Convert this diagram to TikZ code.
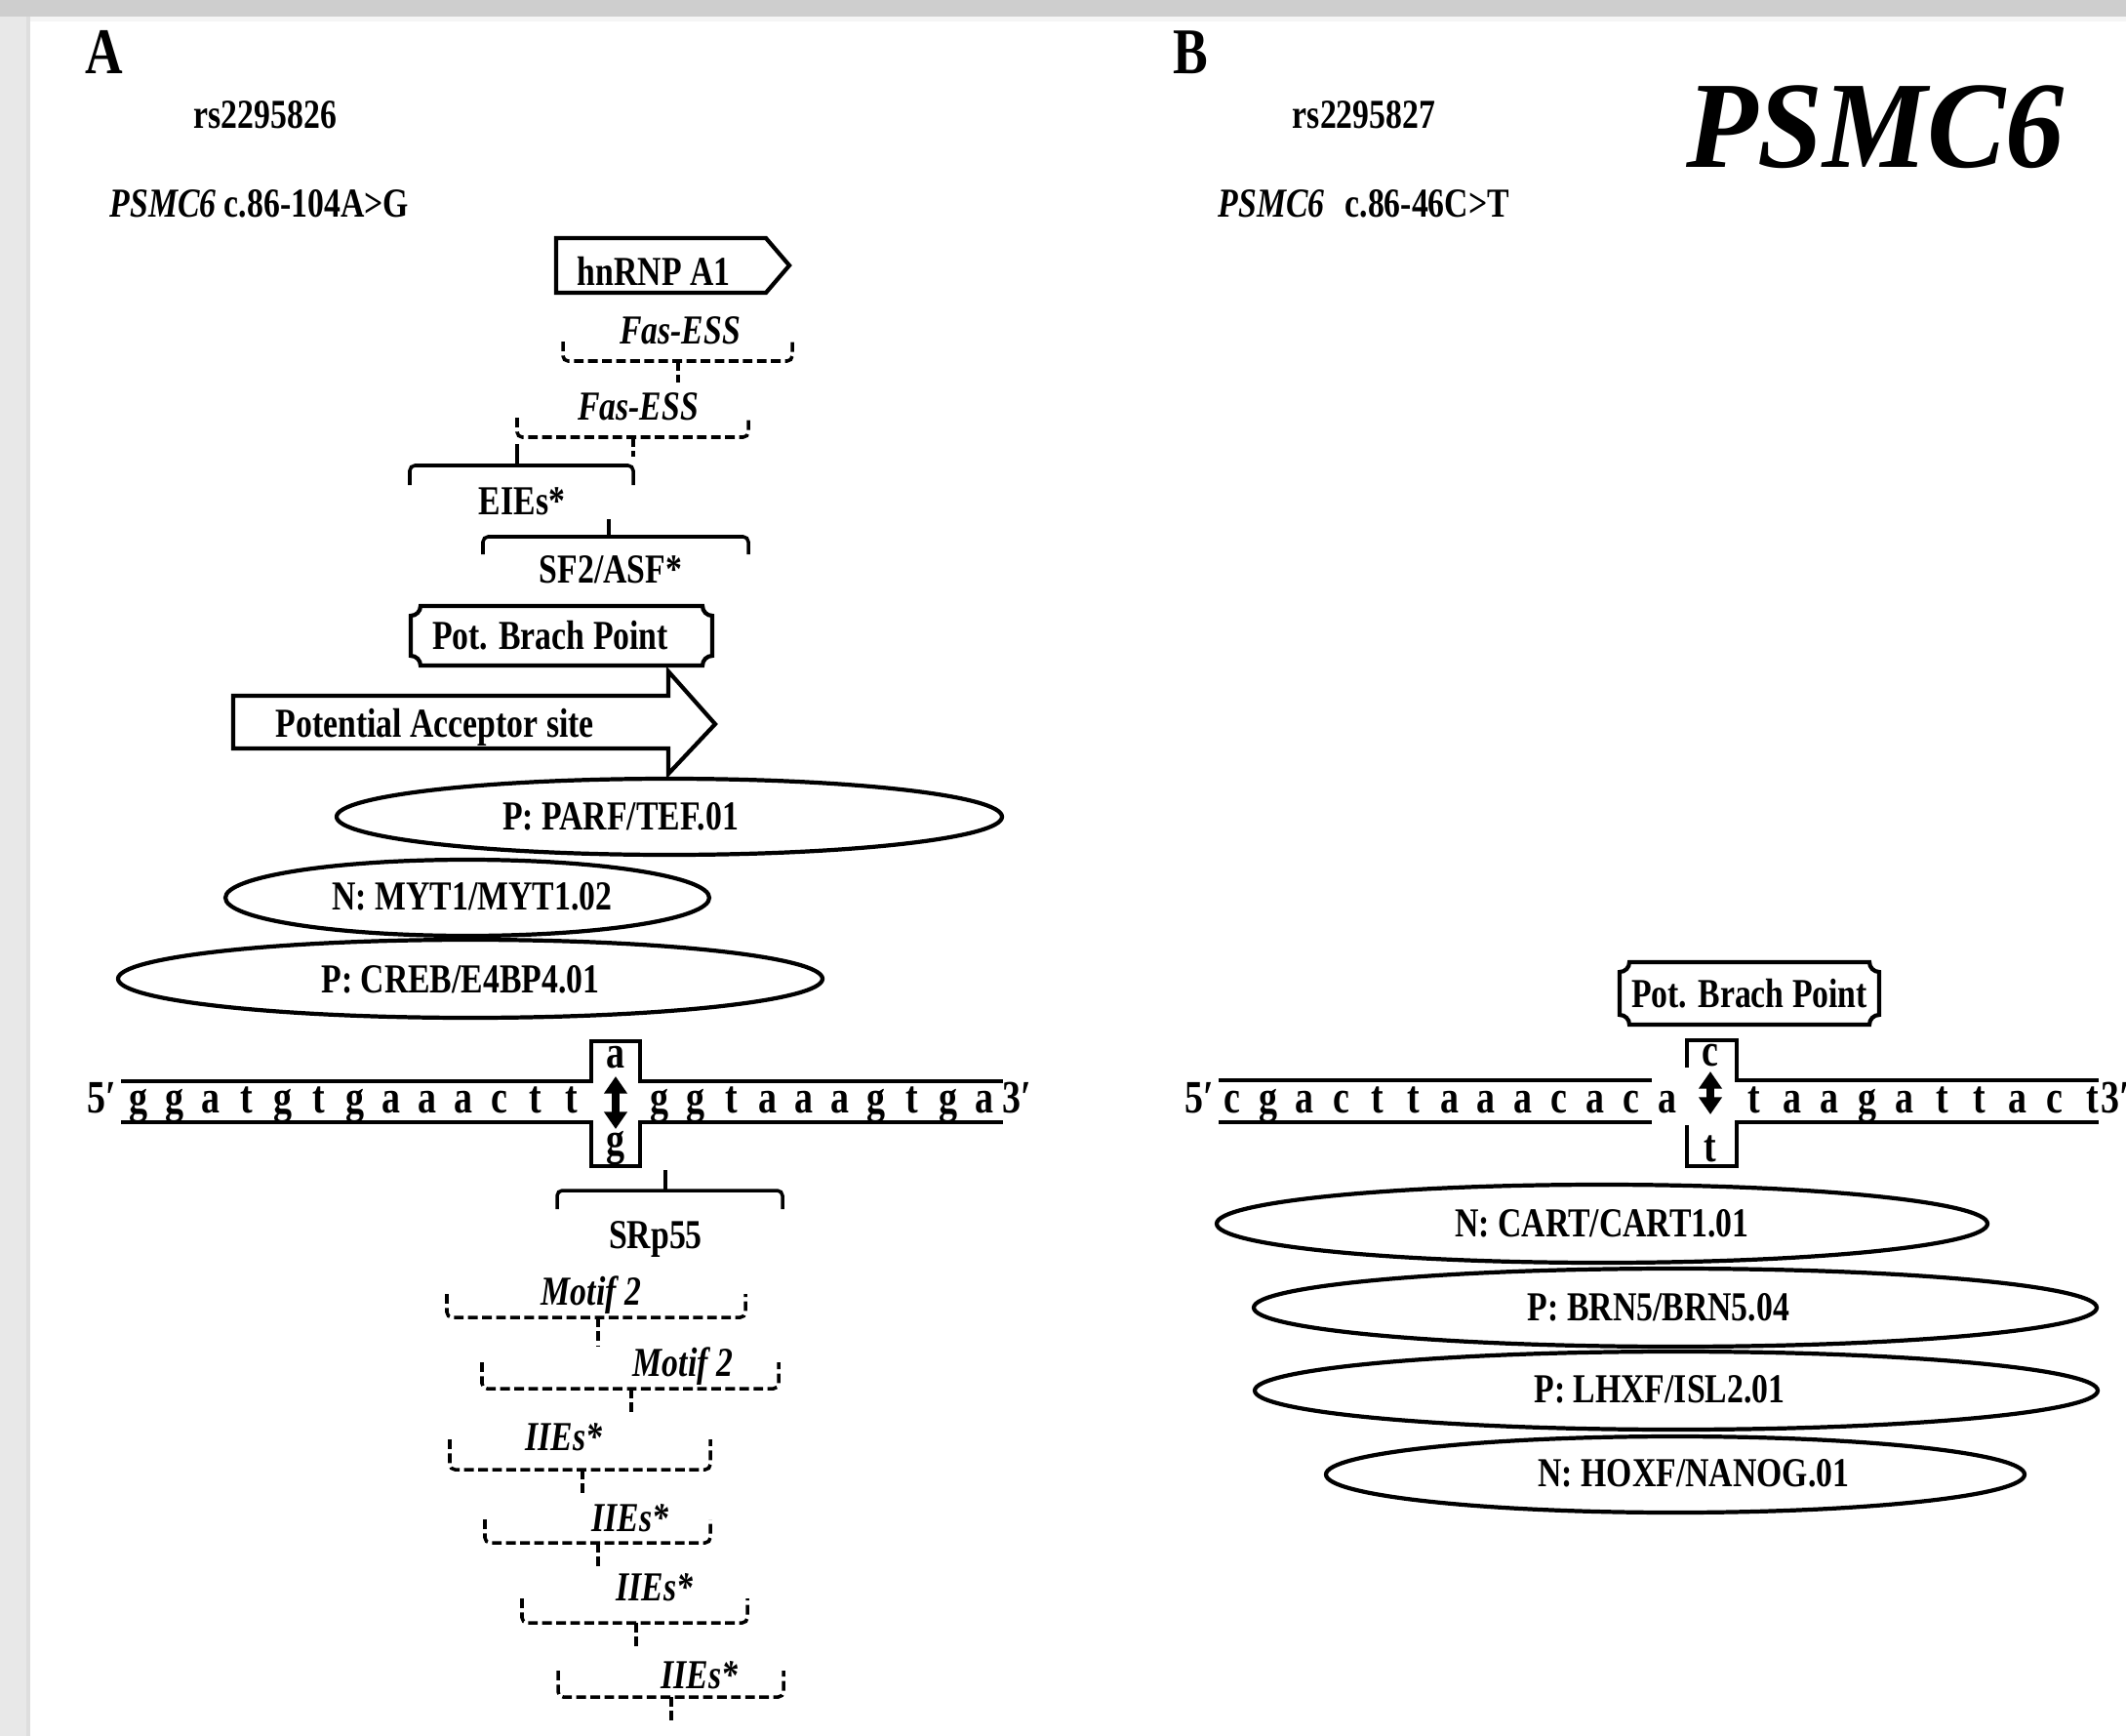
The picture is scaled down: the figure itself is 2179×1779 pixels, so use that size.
\documentclass[tikz,border=0pt]{standalone}
\usepackage{fontspec}
\setmainfont{Liberation Serif}[FakeStretch=0.8]
\newfontfamily\bigfont{Liberation Serif}[FakeStretch=0.95]
\usetikzlibrary{arrows.meta,shapes.geometric}
\definecolor{topband}{RGB}{206,206,206}
\definecolor{sideband}{RGB}{232,232,232}
\newcommand\dashbr[6]{%
  \draw[dbr] (#1,#4) -- (#1,#3) -- (#2,#3) -- (#2,#4);
  \draw[dbr] (#5,#3) -- (#5,#6);}
\newcommand\solbr[6]{%
  \draw[sbr] (#1,#4) -- (#1,#3) -- (#2,#3) -- (#2,#4);
  \draw[sbr] (#5,#3) -- (#5,#6);}
\newcommand\plaque[4]{%
  \draw[pl] (#1+10,#2) -- (#3-10,#2) .. controls (#3-10,#2+5.5) and (#3-5.5,#2+10) .. (#3,#2+10)
   -- (#3,#4-10) .. controls (#3-5.5,#4-10) and (#3-10,#4-5.5) .. (#3-10,#4)
   -- (#1+10,#4) .. controls (#1+10,#4-5.5) and (#1+5.5,#4-10) .. (#1,#4-10)
   -- (#1,#2+10) .. controls (#1+5.5,#2+10) and (#1+10,#2+5.5) .. cycle;}
\begin{document}
\begin{tikzpicture}[x=0.01cm,y=-0.01cm,
  lbl/.style={font=\fontsize{12}{14}\selectfont\bfseries, inner sep=0pt, anchor=base},
  ilbl/.style={font=\fontsize{12}{14}\selectfont\bfseries\itshape, inner sep=0pt, anchor=base},
  seq/.style={font=\fontsize{13.5}{15}\selectfont\bfseries, inner sep=0pt, anchor=base},
  panel/.style={font=\fontsize{19}{21}\selectfont\bfseries, inner sep=0pt, anchor=base},
  dbr/.style={line width=1pt, dash pattern=on 2.8pt off 1.3pt, rounded corners=1.5pt},
  sbr/.style={line width=1pt, rounded corners=1.5pt},
  pl/.style={line width=1.2pt},
  ell/.style={line width=1.2pt},
  strand/.style={line width=1.4pt},
  dbl/.style={line width=2.2pt, {Triangle[width=6.5pt,length=5pt]}-{Triangle[width=6.5pt,length=5pt]}},
  box/.style={line width=1.2pt, line join=miter}]
\useasboundingbox (0,0) rectangle (2179,1779);
% background frame
\fill[white] (0,0) rectangle (2179,1779);
\fill[sideband] (0,0) rectangle (31,1779);
\fill[black!13] (27,0) rectangle (31,1779);
\fill[topband] (0,0) rectangle (2179,17);
\fill[black!4] (31,17) rectangle (2179,22);

% ---------- Panel A ----------
\node[panel] (pA) at (107,76) {A};
\node[lbl] (rsA) at (272,132) {rs2295826};
\node[lbl, anchor=base west] (mutA) at (112,222) {\textit{PSMC6} c.86-104A>G};

% hnRNP A1 arrow
\draw[box] (570,244) -- (785,244) -- (809,272) -- (785,300) -- (570,300) -- cycle;
\node[lbl, anchor=base west] (hnrnp) at (591,292) {hnRNP A1};

% Fas-ESS brackets
\node[ilbl] (fas1) at (697,352) {Fas-ESS};
\dashbr{577}{812}{370}{350}{695}{392}
\node[ilbl] (fas2) at (654,430) {Fas-ESS};
\dashbr{530}{767}{448}{428}{649}{468}

% EIEs and SF2/ASF
\solbr{420}{649}{477}{497}{530}{455}
\node[lbl] (eies) at (535,527) {EIEs*};
\solbr{495}{767}{550}{568}{624}{532}
\node[lbl] (sf2) at (626,597) {SF2/ASF*};

% Pot. Brach Point
\plaque{421}{621}{730}{682}
\node[lbl] (bpA) at (564,665) {Pot. Brach Point};

% Potential acceptor site arrow
\draw[box] (239,713) -- (685,713) -- (685,688) -- (733,742) -- (685,793) -- (685,767) -- (239,767) -- cycle;
\node[lbl, anchor=base west] (acc) at (282,755) {Potential Acceptor site};

% ellipses
\draw[ell] (686,837) ellipse [x radius=341, y radius=39];
\node[lbl] (parf) at (636,850) {P: PARF/TEF.01};
\draw[ell] (479,920) ellipse [x radius=248, y radius=39];
\node[lbl] (myt) at (484,932) {N: MYT1/MYT1.02};
\draw[ell] (482,1003) ellipse [x radius=361, y radius=40];
\node[lbl] (creb) at (472,1017) {P: CREB/E4BP4.01};

% sequence A
\draw[strand] (124,1108) -- (606,1108) -- (606,1067) -- (656,1067) -- (656,1108) -- (1028,1108);
\draw[strand] (124,1150) -- (606,1150) -- (606,1195) -- (656,1195) -- (656,1150) -- (1028,1150);
\node[seq] (p5A) at (104,1140) {5′};
\foreach \c [count=\i from 0] in {g,g,a,t,g,t,g,a,a,a,c,t,t}
  \node[seq] (sa\i) at (142+37*\i,1140) {\c};
\foreach \c [count=\i from 0] in {g,g,t,a,a,a,g,t,g,a}
  \node[seq] (sb\i) at (676+37*\i,1140) {\c};
\node[seq] (p3A) at (1042,1140) {3′};
\node[seq] (alA) at (631,1094) {a};
\node[seq] (alG) at (631,1183) {g};
\draw[dbl] (631,1103) -- (631,1157);

% SRp55
\solbr{571}{802}{1220}{1239}{682}{1199}
\node[lbl] (srp) at (672,1279) {SRp55};

% lower dashed brackets
\node[ilbl] (mot1) at (606,1337) {Motif 2};
\dashbr{458}{764}{1350}{1326}{613}{1379}
\node[ilbl] (mot2) at (700,1410) {Motif 2};
\dashbr{494}{798}{1423}{1396}{647}{1450}
\node[ilbl] (iie1) at (578,1486) {IIEs*};
\dashbr{461}{728}{1506}{1475}{597}{1532}
\node[ilbl] (iie2) at (646,1569) {IIEs*};
\dashbr{497}{728}{1581}{1557}{613}{1605}
\node[ilbl] (iie3) at (671,1640) {IIEs*};
\dashbr{535}{766}{1663}{1638}{652}{1688}
\node[ilbl] (iie4) at (717,1730) {IIEs*};
\dashbr{572}{803}{1739}{1712}{688}{1766}

% ---------- Panel B ----------
\node[panel] (pB) at (1220,76) {B};
\node[lbl] (rsB) at (1398,132) {rs2295827};
\node[lbl, anchor=base west] (mutB) at (1248,222) {\textit{PSMC6}\hspace{0.5em}c.86-46C>T};
\node[inner sep=0pt, anchor=base, font=\bigfont\fontsize{36}{40}\selectfont\bfseries\itshape] (gene) at (1922,172) {PSMC6};

\plaque{1660}{986}{1926}{1050}
\node[lbl] (bpB) at (1793,1032) {Pot. Brach Point};

\draw[strand] (1249,1107) -- (1693,1107);
\draw[strand] (1729,1094) -- (1729,1066) -- (1780,1066) -- (1780,1107) -- (2151,1107);
\draw[strand] (1249,1150) -- (1693,1150);
\draw[strand] (1729,1153) -- (1729,1195) -- (1780,1195) -- (1780,1150) -- (2151,1150);
\node[seq] (p5B) at (1229,1140) {5′};
\foreach \c [count=\i from 0] in {c,g,a,c,t,t,a,a,a,c,a,c,a}
  \node[seq] (sc\i) at (1263+37.2*\i,1140) {\c};
\foreach \c [count=\i from 0] in {t,a,a,g,a,t,t,a,c,t}
  \node[seq] (sd\i) at (1798+38.5*\i,1140) {\c};
\node[seq, anchor=base west] (p3B) at (2153,1140) {3′};
\node[seq] (alC) at (1753,1092) {c};
\node[seq] (alT) at (1753,1190) {t};
\draw[dbl] (1753,1098) -- (1753,1142);

\draw[ell] (1642,1254) ellipse [x radius=395, y radius=40];
\node[lbl] (cart) at (1642,1267) {N: CART/CART1.01};
\draw[ell] (1717,1340) ellipse [x radius=432, y radius=40];
\node[lbl] (brn) at (1700,1353) {P: BRN5/BRN5.04};
\draw[ell] (1718,1425) ellipse [x radius=432, y radius=40];
\node[lbl] (lhx) at (1701,1437) {P: LHXF/ISL2.01};
\draw[ell] (1717,1511) ellipse [x radius=358, y radius=39];
\node[lbl] (hox) at (1736,1523) {N: HOXF/NANOG.01};
\end{tikzpicture}
\end{document}
